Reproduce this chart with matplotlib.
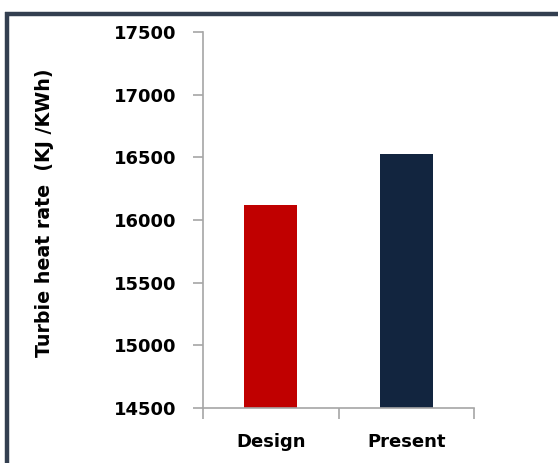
import matplotlib
matplotlib.use("Agg")
import matplotlib.pyplot as plt
from matplotlib.lines import Line2D

categories = ["Design", "Present"]
values = [16120, 16530]
colors = ["#C00000", "#12253F"]
yticks = [14500, 15000, 15500, 16000, 16500, 17000, 17500]

plt.rcParams['font.family'] = ['DejaVu Sans']

fig = plt.figure(figsize=(5.58, 4.63), dpi=100)
ax = fig.add_axes([203/558, 1 - 407.7/463, (474 - 203)/558, (407.7 - 32.3)/463])

x = list(range(len(categories)))
ax.bar(x, values, width=0.39, color=colors)
ax.set_xlim(-0.5, len(categories) - 0.5)
ax.set_ylim(14500, 17500)
ax.set_yticks(yticks)
ax.set_yticklabels([str(v) for v in yticks], fontsize=13, fontweight='bold')

ax.set_xticks([i - 0.5 for i in range(len(categories) + 1)], minor=False)
ax.set_xticklabels([])
ax.set_xticks(x, minor=True)
ax.set_xticklabels(categories, minor=True, fontsize=13, fontweight='bold')
ax.tick_params(axis='x', which='minor', length=0, pad=18)
ax.tick_params(axis='x', which='major', length=8, width=1.2, color='#a6a6a6')
ax.tick_params(axis='y', length=7, width=1.2, color='#a6a6a6', pad=12)

for s in ['top', 'right']:
    ax.spines[s].set_visible(False)
for s in ['left', 'bottom']:
    ax.spines[s].set_color('#a6a6a6')
    ax.spines[s].set_linewidth(1.2)

ax.set_ylabel("Turbie heat rate  (KJ /KWh)", fontsize=13.7, fontweight='bold')
ax.yaxis.set_label_coords(-0.55, 0.52)

border_color = "#333F50"
fig.add_artist(Line2D([5/558, 1.0], [1 - 14/463, 1 - 14/463], color=border_color, lw=3.2,
                      solid_capstyle='butt', transform=fig.transFigure))
fig.add_artist(Line2D([7/558, 7/558], [0, 1 - 12/463], color=border_color, lw=3.2,
                      solid_capstyle='butt', transform=fig.transFigure))

fig.savefig("out.png", dpi=100)
